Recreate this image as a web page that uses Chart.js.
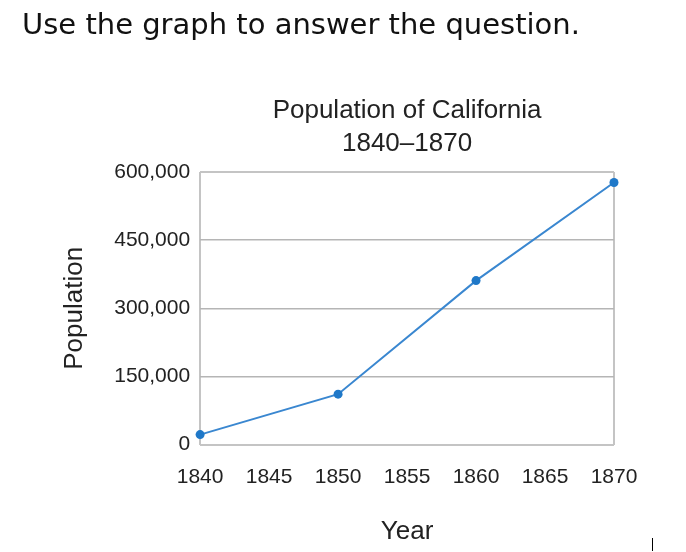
<!DOCTYPE html>
<html>
<head>
<meta charset="utf-8">
<script src="https://cdn.jsdelivr.net/npm/chart.js@4"></script>
<style>
  body { margin: 0; background: #fff; width: 686px; height: 552px; overflow: hidden; position: relative; }
  #question { position: absolute; left: 22px; top: 7px; font-family: "DejaVu Sans", sans-serif; font-size: 29px; color: #111; z-index: 2; }
  #box { position: absolute; left: 0; top: 0; width: 686px; height: 552px; }
  #cursor { position: absolute; left: 652px; top: 538px; width: 1px; height: 13px; background: #000; }
</style>
</head>
<body>
<div id="question">Use the graph to answer the question.</div>
<div id="box"><canvas id="chart"></canvas></div>
<div id="cursor"></div>
<script>
// values
var years = [1840, 1850, 1860, 1870];
var population = [22000, 111000, 361000, 577000];
var titleLines = ['Population of California', '1840\u20131870'];

var edge = '#c4c4c4';
var gridGray = '#b5b5b5';
var textColor = '#222';

var canvas = document.getElementById('chart');
var chart = new Chart(canvas, {
  type: 'line',
  data: {
    datasets: [{
      data: years.map(function(y, i) { return { x: y, y: population[i] }; }),
      borderColor: '#3a87d0',
      backgroundColor: '#1f78c8',
      borderWidth: 2,
      pointRadius: 4.5,
      pointHoverRadius: 4.5,
      pointBorderWidth: 0,
      fill: false,
      clip: false
    }]
  },
  options: {
    responsive: true,
    maintainAspectRatio: false,
    animation: false,
    layout: { padding: { left: 9, right: 72, top: 0, bottom: 5 } },
    plugins: {
      legend: { display: false },
      tooltip: { enabled: false },
      title: {
        display: true,
        fullSize: false,
        text: titleLines,
        color: textColor,
        font: { family: 'Liberation Sans', size: 26, weight: 'normal', lineHeight: 1.27 },
        padding: { top: 94, bottom: 12 }
      }
    },
    scales: {
      x: {
        type: 'linear',
        min: 1840,
        max: 1870,
        border: { display: false },
        grid: {
          drawTicks: false,
          lineWidth: 2,
          color: function(ctx) {
            var v = ctx.tick && ctx.tick.value;
            return (v === 1840 || v === 1870) ? edge : 'rgba(0,0,0,0)';
          }
        },
        ticks: {
          stepSize: 5,
          padding: 20,
          color: textColor,
          font: { family: 'Liberation Sans', size: 21 },
          callback: function(v) { return String(v); }
        },
        title: {
          display: true,
          text: 'Year',
          color: textColor,
          font: { family: 'Liberation Sans', size: 26 },
          padding: { top: 6, bottom: 0 }
        }
      },
      y: {
        min: 0,
        max: 600000,
        border: { display: false },
        grid: {
          drawTicks: false,
          lineWidth: function(ctx) {
            var v = ctx.tick && ctx.tick.value;
            return (v === 0 || v === 600000) ? 2 : 1.5;
          },
          color: function(ctx) {
            var v = ctx.tick && ctx.tick.value;
            return (v === 0 || v === 600000) ? edge : gridGray;
          }
        },
        ticks: {
          stepSize: 150000,
          padding: 10,
          color: textColor,
          font: { family: 'Liberation Sans', size: 21 },
          callback: function(v) { return v.toLocaleString('en-US'); }
        },
        title: {
          display: true,
          text: 'Population',
          color: textColor,
          font: { family: 'Liberation Sans', size: 26 },
          padding: { top: 50, bottom: 14 }
        }
      }
    }
  }
});
</script>
</body>
</html>
